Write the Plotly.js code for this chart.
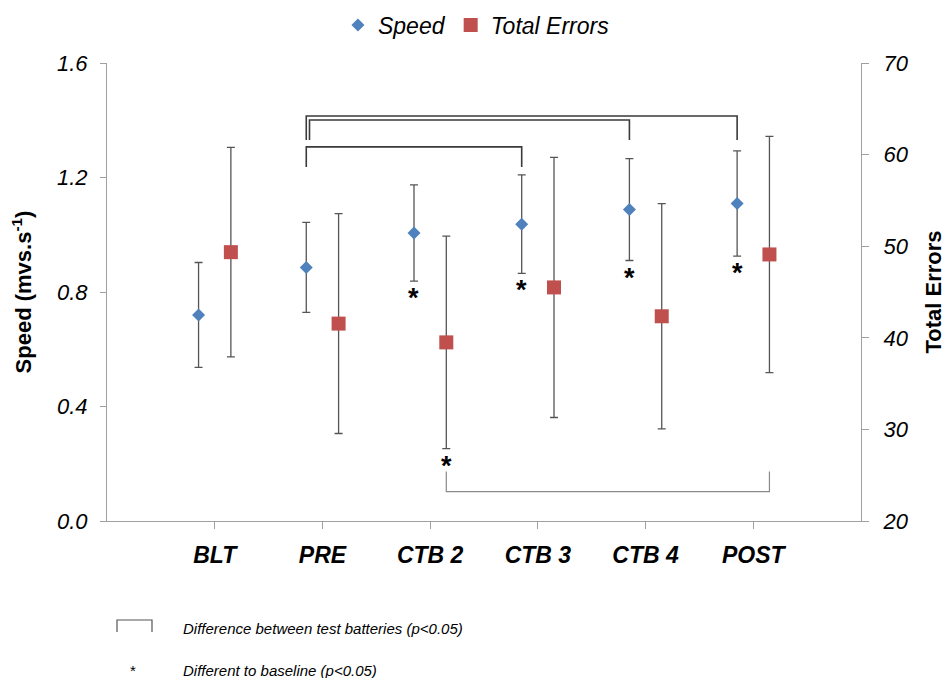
<!DOCTYPE html>
<html>
<head>
<meta charset="utf-8">
<script src="https://cdn.plot.ly/plotly-3.0.1.min.js"></script>
<style>
  html, body { margin: 0; padding: 0; background: #ffffff; }
  #chart { width: 946px; height: 678px; }
</style>
</head>
<body>
<div id="chart"></div>
<script>
// Test batteries along the x axis
const categories = ['BLT', 'PRE', 'CTB 2', 'CTB 3', 'CTB 4', 'POST'];

// Speed (mvs.s-1): mean and SD for each battery
const speedMean = [0.72, 0.886, 1.006, 1.037, 1.088, 1.109];
const speedSD   = [0.183, 0.157, 0.168, 0.172, 0.178, 0.184];

// Total errors: mean and SD for each battery
const errorsMean = [49.35, 41.55, 39.5, 45.5, 42.35, 49.1];
const errorsSD   = [11.43, 12.0, 11.6, 14.2, 12.3, 12.9];

// Significantly different to baseline (p<0.05)
const speedVsBaseline  = [false, false, true, true, true, true];
const errorsVsBaseline = [false, false, true, false, false, false];

// Pairs of batteries that differ (p<0.05)
const speedPairs  = [['PRE', 'POST'], ['PRE', 'CTB 4'], ['PRE', 'CTB 3']];
const errorsPairs = [['CTB 2', 'POST']];

const BLUE = '#4F81BD';
const RED = '#C0504D';
const BAR = '#555555';
const AXIS = '#a0a0a0';
const FONT = 'Liberation Sans, Arial, sans-serif';

const idx = categories.map((c, i) => i);
const shift = 0.15; // half-distance between the two series within a battery
const xSpeed = idx.map(i => i - shift);
const xErrors = idx.map(i => i + shift);
const pos = name => categories.indexOf(name);

const traces = [
  {
    type: 'scatter', mode: 'markers', name: 'Speed',
    x: xSpeed, y: speedMean, yaxis: 'y',
    marker: { symbol: 'diamond', size: 10, color: BLUE },
    error_y: { type: 'data', array: speedSD, visible: true, color: BAR, thickness: 1.3, width: 4 }
  },
  {
    type: 'scatter', mode: 'markers', name: 'Total Errors',
    x: xErrors, y: errorsMean, yaxis: 'y2',
    marker: { symbol: 'square', size: 14, color: RED },
    error_y: { type: 'data', array: errorsSD, visible: true, color: BAR, thickness: 1.3, width: 4 }
  }
];

// Significance markers under the lower error bar
const annotations = [];
const starFont = { family: FONT, size: 27, weight: 'bold', color: '#000' };
speedVsBaseline.forEach((f, i) => {
  if (!f) return;
  annotations.push({
    x: xSpeed[i], y: speedMean[i] - speedSD[i], xref: 'x', yref: 'y',
    text: '*', showarrow: false, yanchor: 'top', yshift: 0, font: starFont
  });
});
errorsVsBaseline.forEach((f, i) => {
  if (!f) return;
  annotations.push({
    x: xErrors[i], y: errorsMean[i] - errorsSD[i], xref: 'x', yref: 'y2',
    text: '*', showarrow: false, yanchor: 'top', yshift: 0, font: starFont
  });
});

// Comparison brackets
const shapes = [];
function bracket(x1, x2, yTop, yLow1, yLow2, yref, color, w) {
  shapes.push({
    type: 'path', xref: 'x', yref: yref,
    path: `M ${x1},${yLow1} L ${x1},${yTop} L ${x2},${yTop} L ${x2},${yLow2}`,
    line: { color: color, width: w }
  });
}
const speedLevels = [
  { top: 1.415, low: 1.331, inset: 0 },
  { top: 1.401, low: 1.331, inset: 0.03 },
  { top: 1.307, low: 1.237, inset: 0 }
];
speedPairs.forEach((p, k) => {
  const L = speedLevels[k];
  bracket(xSpeed[pos(p[0])] + L.inset, xSpeed[pos(p[1])], L.top, L.low, L.low, 'y', '#3a3a3a', 1.6);
});
errorsPairs.forEach(p => {
  bracket(xErrors[pos(p[0])], xErrors[pos(p[1])], 23.2, 25.4, 25.4, 'y2', '#8a8a8a', 1.2);
});

// Key below the plot (paper coordinates from pixel offsets of the plot area)
const plotL = 107, plotW = 754, plotB = 521, plotH = 458;
const px = v => (v - plotL) / plotW;
const py = v => (plotB - v) / plotH;
shapes.push({
  type: 'path', xref: 'paper', yref: 'paper',
  path: `M ${px(117)},${py(632)} L ${px(117)},${py(620)} L ${px(152)},${py(620)} L ${px(152)},${py(632)}`,
  line: { color: '#555', width: 1.2 }
});
const keyFont = { family: FONT, size: 15, style: 'italic', color: '#000' };
annotations.push({
  xref: 'paper', yref: 'paper', x: px(181), y: py(628), xanchor: 'left', yanchor: 'middle',
  text: 'Difference between test batteries (p&lt;0.05)', showarrow: false, font: keyFont
});
annotations.push({
  xref: 'paper', yref: 'paper', x: px(133), y: py(670), xanchor: 'center', yanchor: 'middle',
  text: '*', showarrow: false,
  font: { family: FONT, size: 15, color: '#000' }
});
annotations.push({
  xref: 'paper', yref: 'paper', x: px(181), y: py(670), xanchor: 'left', yanchor: 'middle',
  text: 'Different to baseline (p&lt;0.05)', showarrow: false, font: keyFont
});

const layout = {
  width: 946, height: 678,
  margin: { l: 107, r: 85, t: 63, b: 157, autoexpand: false },
  paper_bgcolor: '#ffffff', plot_bgcolor: '#ffffff',
  font: { family: FONT, color: '#000' },
  showlegend: true,
  legend: {
    orientation: 'h', x: 0.49, xanchor: 'center', y: py(25), yanchor: 'middle',
    font: { family: FONT, size: 23, style: 'italic', color: '#000' },
    itemwidth: 30, tracegroupgap: 0
  },
  xaxis: {
    range: [-1, 6], tickvals: idx, ticktext: categories,
    showgrid: false, zeroline: false, showline: true, linecolor: AXIS, linewidth: 1,
    ticks: 'outside', ticklen: 7, tickcolor: AXIS, ticklabelstandoff: 6,
    tickfont: { family: FONT, size: 23, weight: 'bold', style: 'italic', color: '#000' }
  },
  yaxis: {
    range: [0, 1.6], dtick: 0.4, tick0: 0, tickformat: '.1f',
    showgrid: false, zeroline: false, showline: true, linecolor: AXIS, linewidth: 1,
    ticks: 'outside', ticklen: 6, tickcolor: AXIS, ticklabelstandoff: 8,
    tickfont: { family: FONT, size: 22, style: 'italic', color: '#000' },
    title: { text: 'Speed (mvs.s<sup>-1</sup>)', standoff: 19,
             font: { family: FONT, size: 22, weight: 'bold', color: '#000' } }
  },
  yaxis2: {
    range: [20, 70], dtick: 10, tick0: 20, overlaying: 'y', side: 'right',
    showgrid: false, zeroline: false, showline: true, linecolor: AXIS, linewidth: 1,
    ticks: 'outside', ticklen: 7, tickcolor: AXIS, ticklabelstandoff: 10,
    tickfont: { family: FONT, size: 22, style: 'italic', color: '#000' },
    title: { text: 'Total Errors', standoff: 17,
             font: { family: FONT, size: 22, weight: 'bold', color: '#000' } }
  },
  shapes: shapes,
  annotations: annotations
};

Plotly.newPlot('chart', traces, layout, { displayModeBar: false, staticPlot: true });
</script>
</body>
</html>
